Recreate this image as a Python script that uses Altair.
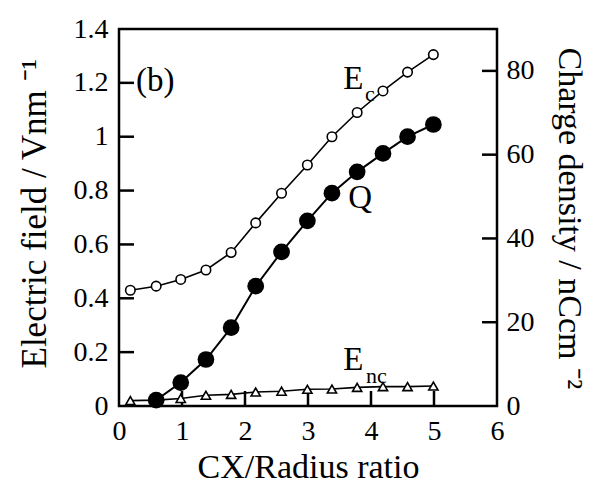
import altair as alt
import pandas as pd

# ---- data ----
x_vals = [0.18, 0.59, 0.98, 1.38, 1.78, 2.17, 2.58, 2.99, 3.38, 3.78, 4.19, 4.58, 4.99]
ec_vals = [0.43, 0.445, 0.47, 0.505, 0.57, 0.68, 0.79, 0.895, 1.0, 1.09, 1.17, 1.24, 1.305]
enc_vals = [0.02, 0.022, 0.028, 0.04, 0.043, 0.052, 0.055, 0.062, 0.063, 0.069, 0.072, 0.072, 0.074]
q_x = [0.59, 0.98, 1.38, 1.78, 2.17, 2.58, 2.99, 3.38, 3.78, 4.19, 4.58, 4.99]
q_vals = [1.4, 5.6, 11.1, 18.7, 28.6, 36.8, 44.2, 50.8, 55.9, 60.3, 64.3, 67.2]

x_ticks = [0, 1, 2, 3, 4, 5, 6]
left_ticks = [0, 0.2, 0.4, 0.6, 0.8, 1.0, 1.2, 1.4]
right_ticks = [0, 20, 40, 60, 80]
x_inner = [1, 2, 3, 4, 5]
left_inner = [0.2, 0.4, 0.6, 0.8, 1.0, 1.2]
right_inner = [20, 40, 60, 80]

main_labels = ["(b)", "E", "Q", "E"]
main_lx = [0.27, 3.56, 3.64, 3.56]
main_ly = [1.17, 1.178, 0.737, 0.133]
sub_labels = ["c", "nc"]
sub_lx = [3.905, 3.92]
sub_ly = [1.133, 0.085]

W, H = 378, 377
FONT = "Liberation Serif"

ec_df = pd.DataFrame({"x": x_vals, "v": ec_vals})
enc_df = pd.DataFrame({"x": x_vals, "v": enc_vals})
q_df = pd.DataFrame({"x": q_x, "v": q_vals})
xin_df = pd.DataFrame({"x": x_inner})
lin_df = pd.DataFrame({"v": left_inner})
rin_df = pd.DataFrame({"v": right_inner})
main_df = pd.DataFrame({"t": main_labels, "x": main_lx, "v": main_ly})
sub_df = pd.DataFrame({"t": sub_labels, "x": sub_lx, "v": sub_ly})

xscale = alt.Scale(domain=[0, 6], nice=False, zero=False)
xaxis = alt.Axis(values=x_ticks, title="CX/Radius ratio", labelFont=FONT, titleFont=FONT,
                 labelFontSize=28, titleFontSize=34, labelPadding=11, ticks=False,
                 domain=False, grid=False, titleY=71, titleBaseline="alphabetic",
                 labelFlush=False, format="~g")
X = alt.X("x:Q", scale=xscale, axis=xaxis)

lscale = alt.Scale(domain=[0, 1.4], nice=False, zero=False)
laxis = alt.Axis(values=left_ticks, title="Electric field / Vnm \u207b\u00b9",
                 labelFont=FONT, titleFont=FONT,
                 labelFontSize=28, titleFontSize=35, labelPadding=11, ticks=False,
                 domain=False, grid=False, titleAngle=-90, titleAlign="left",
                 titleBaseline="alphabetic", titleX=-74, titleY=339,
                 format="~g", labelFlush=False)
YL = alt.Y("v:Q", scale=lscale, axis=laxis)
rscale = alt.Scale(domain=[0, 90], nice=False, zero=False)
raxis = alt.Axis(values=right_ticks, title="Charge density / nCcm \u207b\u00b2",
                 orient="right", labelFont=FONT, titleFont=FONT,
                 labelFontSize=28, titleFontSize=34, labelPadding=9,
                 ticks=False, domain=False, grid=False, titleAngle=90,
                 titleAlign="left", titleBaseline="alphabetic", titleX=61, titleY=18,
                 labelFlush=False)
YR = alt.Y("v:Q", scale=rscale, axis=raxis)

ec_line = alt.Chart(ec_df).mark_line(color="black", strokeWidth=1.6).encode(x=X, y=YL)
ec_pts = alt.Chart(ec_df).mark_point(shape="circle", filled=True, fill="white",
                                     stroke="black", strokeWidth=1.6, size=90,
                                     opacity=1).encode(x=X, y=YL)
enc_line = alt.Chart(enc_df).mark_line(color="black", strokeWidth=1.6).encode(x=X, y=YL)
enc_pts = alt.Chart(enc_df).mark_point(shape="triangle-up", filled=True, fill="white",
                                       stroke="black", strokeWidth=1.6, size=85,
                                       opacity=1).encode(x=X, y=YL)
x_tk = alt.Chart(xin_df).mark_rule(color="black", strokeWidth=2.5).encode(
    x=X, y=alt.value(H), y2=alt.value(H - 15))
l_tk = alt.Chart(lin_df).mark_rule(color="black", strokeWidth=2.5).encode(
    y=YL, x=alt.value(0), x2=alt.value(15))
main_txt = alt.Chart(main_df).mark_text(font=FONT, fontSize=33, align="left",
                                        baseline="alphabetic", color="black").encode(
    x=X, y=YL, text="t:N")
sub_txt = alt.Chart(sub_df).mark_text(font=FONT, fontSize=22, align="left",
                                      baseline="alphabetic", color="black").encode(
    x=X, y=YL, text="t:N")

left = alt.layer(ec_line, enc_line, x_tk, l_tk, ec_pts, enc_pts, main_txt, sub_txt)

q_line = alt.Chart(q_df).mark_line(color="black", strokeWidth=2).encode(x=X, y=YR)
q_pts = alt.Chart(q_df).mark_point(shape="circle", filled=True, fill="black",
                                   color="black", size=280, opacity=1).encode(x=X, y=YR)
r_tk = alt.Chart(rin_df).mark_rule(color="black", strokeWidth=2.5).encode(
    y=YR, x=alt.value(W - 15), x2=alt.value(W))

right = alt.layer(q_line, r_tk, q_pts)

chart = alt.layer(left, right).resolve_scale(y="independent").properties(
    width=W, height=H,
    autosize=alt.AutoSizeParams(type="none"),
    padding={"left": 111, "top": 21, "right": 93, "bottom": 78},
    background="white",
).configure_view(stroke="black", strokeWidth=2.5).configure_axis(
    labelFont=FONT, titleFont=FONT, labelColor="black", titleColor="black",
    titleFontWeight="normal"
)

chart.save("out.html", embed_options={"renderer": "svg", "actions": False})
